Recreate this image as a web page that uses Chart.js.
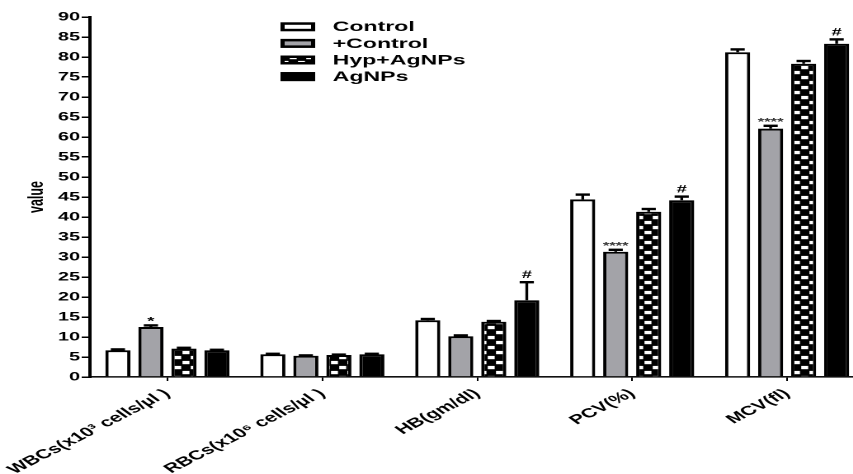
<!DOCTYPE html>
<html>
<head>
<meta charset="utf-8">
<script src="https://cdn.jsdelivr.net/npm/chart.js@4"></script>
<style>
  html, body { margin: 0; padding: 0; width: 853px; height: 474px; overflow: hidden; background: #fff; }
  /* the figure is drawn narrow and widened horizontally, like the published plot */
  #wrap { position: absolute; left: 0; top: 0; width: 524px; height: 474px;
          transform: scaleX(1.65); transform-origin: 0 0; }
</style>
</head>
<body>
<div id="wrap"><canvas id="chart"></canvas></div>
<script>
// Haematological parameters per group (mean and SEM)
const categories = ['WBCs(x10\u00B3 cells/\u00B5l )', 'RBCs(x10\u2076 cells/\u00B5l )', 'HB(gm/dl)', 'PCV(%)', 'MCV(fl)'];

const controlMean     = [6.7, 5.7, 14.2, 44.4, 81.2];
const controlSem      = [0.2, 0.1, 0.3, 1.2, 0.7];

const plusControlMean = [12.5, 5.3, 10.2, 31.3, 62.1];
const plusControlSem  = [0.4, 0.1, 0.2, 0.5, 0.7];

const hypAgnpMean     = [7.1, 5.5, 13.8, 41.3, 78.3];
const hypAgnpSem      = [0.2, 0.1, 0.2, 0.7, 0.7];

const agnpMean        = [6.7, 5.7, 19.2, 44.2, 83.3];
const agnpSem         = [0.1, 0.1, 4.5, 0.9, 1.1];

// significance marks drawn above the error bars
const plusControlMarks = ['*', '', '', '****', '****'];
const agnpMarks        = ['', '', '#', '#', '#'];

const yTicks = { min: 0, max: 90, step: 5 };

const FONT = "'Liberation Sans', Arial, Helvetica, sans-serif";
const DPR = 2;

// black checker fill for the Hyp+AgNPs group
function checkerPattern() {
  const w = 10, h = 10;
  const c = document.createElement('canvas');
  c.width = w * DPR; c.height = h * DPR;
  const g = c.getContext('2d');
  g.scale(DPR, DPR);
  g.fillStyle = '#000';
  g.fillRect(0, 0, w, h);
  g.fillStyle = '#fff';
  g.fillRect(0.6, 0.9, 4.2, 3.3);
  g.fillRect(5.6, 5.9, 4.2, 3.3);
  const p = g.createPattern(c, 'repeat');
  if (p.setTransform) p.setTransform(new DOMMatrix().scale(1 / DPR));
  return p;
}

const errorBars = {
  id: 'errorBars',
  afterDatasetsDraw(chart) {
    const ctx = chart.ctx;
    const yScale = chart.scales.y;
    chart.data.datasets.forEach((ds, i) => {
      const meta = chart.getDatasetMeta(i);
      meta.data.forEach((bar, j) => {
        const top = yScale.getPixelForValue(ds.data[j] + ds.sem[j]);
        ctx.save();
        ctx.strokeStyle = '#000';
        ctx.lineWidth = 1.7;
        ctx.beginPath();
        ctx.moveTo(bar.x, bar.y);
        ctx.lineTo(bar.x, top);
        ctx.stroke();
        ctx.lineWidth = 2.4;
        ctx.beginPath();
        ctx.moveTo(bar.x - 4.3, top);
        ctx.lineTo(bar.x + 4.3, top);
        ctx.stroke();
        const mark = ds.marks && ds.marks[j];
        if (mark) {
          const many = mark.length > 1;
          ctx.font = (many ? 'bold 10px ' : 'bold 11px ') + FONT;
          ctx.fillStyle = many ? '#333' : '#000';
          ctx.textAlign = 'center';
          ctx.textBaseline = 'alphabetic';
          const m = ctx.measureText(mark);
          ctx.fillText(mark, bar.x, top - 4 - m.actualBoundingBoxDescent);
        }
        ctx.restore();
      });
    });
  }
};

const legendBoxes = {
  id: 'legendBoxes',
  afterDraw(chart) {
    const ctx = chart.ctx;
    chart.data.datasets.forEach((ds, i) => {
      const yc = 26.8 + i * 16.6;
      const x = 170, w = 21, h = 9, lw = 2.5;
      ctx.save();
      ctx.fillStyle = ds.backgroundColor;
      ctx.fillRect(x, yc - h / 2, w, h);
      ctx.strokeStyle = '#000';
      ctx.lineWidth = lw;
      ctx.strokeRect(x + lw / 2, yc - h / 2 + lw / 2, w - lw, h - lw);
      ctx.fillStyle = '#000';
      ctx.font = 'bold 14px ' + FONT;
      ctx.textAlign = 'left';
      ctx.textBaseline = 'middle';
      ctx.fillText(ds.label, 201.6, yc + 0.5);
      ctx.restore();
    });
  }
};

const datasets = [
  { label: 'Control',   data: controlMean,     sem: controlSem,     marks: null,             backgroundColor: '#ffffff' },
  { label: '+Control',  data: plusControlMean, sem: plusControlSem, marks: plusControlMarks, backgroundColor: '#a3a3a8' },
  { label: 'Hyp+AgNPs', data: hypAgnpMean,     sem: hypAgnpSem,     marks: null,             backgroundColor: checkerPattern() },
  { label: 'AgNPs',     data: agnpMean,        sem: agnpSem,        marks: agnpMarks,        backgroundColor: '#000000' }
].map(d => Object.assign(d, {
  borderColor: '#000',
  borderWidth: 2,
  categoryPercentage: 0.852,
  barPercentage: 0.76
}));

new Chart(document.getElementById('chart'), {
  type: 'bar',
  data: { labels: categories, datasets },
  options: {
    responsive: true,
    maintainAspectRatio: false,
    animation: false,
    devicePixelRatio: DPR,
    layout: { padding: { top: 17, left: 0, right: 0, bottom: 0 } },
    plugins: { legend: { display: false }, tooltip: { enabled: false } },
    scales: {
      x: {
        ticks: {
          color: '#000', font: { family: FONT, size: 13, weight: 'bold' },
          minRotation: 40, maxRotation: 40, autoSkip: false, padding: 5
        },
        grid: { offset: false, drawOnChartArea: false, drawTicks: true, tickLength: 4, color: '#000', lineWidth: 1 },
        border: { display: true, color: '#111', width: 1.6 },
        afterFit(scale) {
          scale.height = 97;
          scale.paddingLeft = 0;
          scale.paddingRight = 0;
        }
      },
      y: {
        min: yTicks.min, max: yTicks.max,
        ticks: {
          stepSize: yTicks.step, color: '#000', padding: 1,
          font: { family: FONT, size: 12, weight: 'bold' }
        },
        grid: { drawOnChartArea: false, drawTicks: true, tickLength: 5, color: '#000', lineWidth: 1.5 },
        border: { display: true, color: '#000', width: 2 },
        title: {
          display: true, text: 'value', color: '#000',
          font: { family: FONT, size: 12.5, weight: 'bold' }, padding: { top: 15, bottom: 0 }
        },
        afterFit(scale) { scale.width = 54.5; }
      }
    }
  },
  plugins: [errorBars, legendBoxes]
});
</script>
</body>
</html>
